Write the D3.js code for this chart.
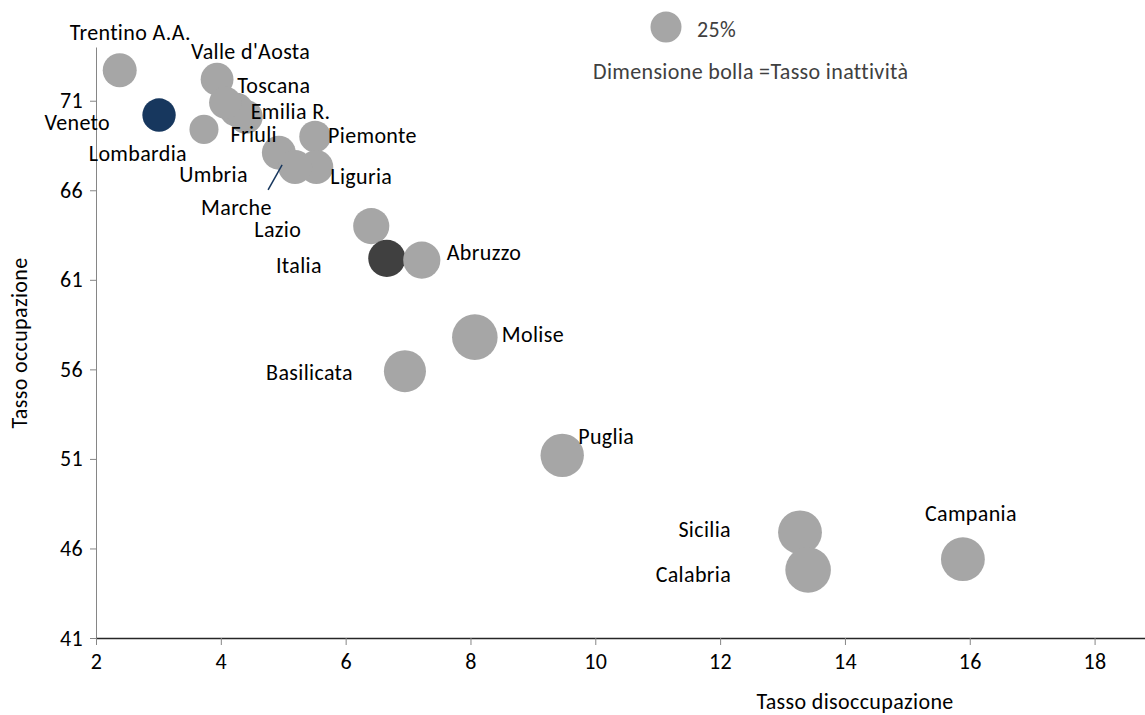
<!DOCTYPE html>
<html>
<head>
<meta charset="utf-8">
<script src="https://cdn.jsdelivr.net/npm/d3@7"></script>
<style>
  body { margin: 0; background: #fff; }
  svg text { font-family: Carlito, Calibri, Lato, sans-serif; letter-spacing: 0.35px; }
</style>
</head>
<body>
<div id="chart"></div>
<script>
// Bubble chart: tasso disoccupazione vs tasso occupazione, bubble = tasso inattività

const regioni = ["Piemonte", "Valle d'Aosta", "Lombardia", "Trentino A.A.", "Veneto", "Friuli",
    "Liguria", "Emilia R.", "Toscana", "Umbria", "Marche", "Lazio", "Italia", "Abruzzo",
    "Molise", "Campania", "Puglia", "Basilicata", "Sicilia", "Calabria"];
const disoccupazione = [5.51, 3.94, 3.73, 2.38, 3.01, 4.25, 5.53, 4.40, 4.07, 4.93, 5.19, 6.41, 6.66, 7.22,
    8.07, 15.89, 9.47, 6.95, 13.28, 13.41];
const occupazione = [69.0, 72.2, 69.4, 72.7, 70.2, 70.5, 67.3, 70.1, 70.9, 68.1, 67.3, 64.0, 62.2, 62.1,
    57.8, 45.4, 51.2, 55.9, 46.9, 44.8];
const inattivita = [26, 28, 22, 30, 29, 30, 30, 30, 27, 30, 30, 34, 36, 36,
    54, 50, 49, 46, 50, 54];

const xTicks = [2, 4, 6, 8, 10, 12, 14, 16, 18];
const yTicks = [41, 46, 51, 56, 61, 66, 71];
const legendValue = 25;

// label placement: [dx, dy, anchor] from bubble centre
const labelPos = {
    "Piemonte": [13, 6, "start"],
    "Valle d'Aosta": [-26, -20, "start"],
    "Lombardia": [-17, 32, "end"],
    "Trentino A.A.": [-50, -30, "start"],
    "Veneto": [-49, 15, "end"],
    "Friuli": [-6, 32, "start"],
    "Liguria": [14, 17, "start"],
    "Emilia R.": [5, 2, "start"],
    "Toscana": [12, -10, "start"],
    "Umbria": [-31, 29, "end"],
    "Marche": [-94, 48, "start"],
    "Lazio": [-70, 11, "end"],
    "Italia": [-65, 15, "end"],
    "Abruzzo": [25, 0, "start"],
    "Molise": [27, 5, "start"],
    "Campania": [8, -38, "middle"],
    "Puglia": [16, -11, "start"],
    "Basilicata": [-52, 9, "end"],
    "Sicilia": [-69, 5, "end"],
    "Calabria": [-77, 12, "end"]
};

const width = 1145, height = 715;
const fontSize = 22;
const colGrey = "#a6a6a6", colNavy = "#17375e", colDark = "#404040";

let svg = d3.select("#chart").append("svg")
    .attr("width", width)
    .attr("height", height);

let x = d3.scaleLinear().domain([2, 19]).range([96, 1157]);
let y = d3.scaleLinear().domain([41, 74]).range([638, 47]);
let r = d3.scaleSqrt().domain([0, 25]).range([0, 15.5]);

// Y axis
let yAxis = svg.append("g")
    .attr("transform", "translate(96,0)")
    .call(d3.axisLeft(y).tickValues(yTicks).tickSize(6).tickPadding(7).tickSizeOuter(0));
yAxis.select(".domain").attr("stroke", "#868686");
yAxis.selectAll(".tick line").attr("stroke", "#868686");
yAxis.selectAll(".tick text").attr("font-size", fontSize).attr("fill", "#000");

// X axis
let xAxis = svg.append("g")
    .attr("transform", "translate(0,638)")
    .call(d3.axisBottom(x).tickValues(xTicks).tickSize(7).tickPadding(8).tickSizeOuter(0));
xAxis.select(".domain").attr("stroke", "#262626").attr("stroke-width", 1.5);
xAxis.selectAll(".tick line").attr("stroke", "#868686");
xAxis.selectAll(".tick text").attr("font-size", fontSize).attr("fill", "#000");

// axis titles
svg.append("text")
    .attr("x", 855)
    .attr("y", 709)
    .attr("text-anchor", "middle")
    .attr("font-size", fontSize)
    .text("Tasso disoccupazione");
svg.append("text")
    .attr("transform", "translate(27,343) rotate(-90)")
    .attr("text-anchor", "middle")
    .attr("font-size", fontSize)
    .text("Tasso occupazione");

let data = regioni.map((d, i) => ({
    name: d, dis: disoccupazione[i], occ: occupazione[i], ina: inattivita[i]
}));

function fillFor(name) {
    if (name === "Veneto") return colNavy;
    if (name === "Italia") return colDark;
    return colGrey;
}

// bubbles
svg.selectAll("circle.bolla")
    .data(data)
    .enter().append("circle")
    .attr("class", "bolla")
    .attr("cx", d => x(d.dis))
    .attr("cy", d => y(d.occ))
    .attr("r", d => r(d.ina))
    .attr("fill", d => fillFor(d.name));

// leader line for Marche
let marche = data.find(d => d.name === "Marche");
svg.append("line")
    .attr("x1", x(marche.dis) - 27)
    .attr("y1", y(marche.occ) + 23)
    .attr("x2", x(marche.dis) - 13)
    .attr("y2", y(marche.occ) - 2)
    .attr("stroke", colNavy)
    .attr("stroke-width", 1.5);

// labels
svg.selectAll("text.etichetta")
    .data(data)
    .enter().append("text")
    .attr("class", "etichetta")
    .attr("x", d => x(d.dis) + labelPos[d.name][0])
    .attr("y", d => y(d.occ) + labelPos[d.name][1])
    .attr("text-anchor", d => labelPos[d.name][2])
    .attr("font-size", fontSize)
    .attr("fill", "#000")
    .text(d => d.name);

// legend
svg.append("circle")
    .attr("cx", 666)
    .attr("cy", 27)
    .attr("r", r(legendValue))
    .attr("fill", colGrey);
svg.append("text")
    .attr("x", 697)
    .attr("y", 37)
    .attr("font-size", fontSize)
    .attr("fill", colDark)
    .text(legendValue + "%");
svg.append("text")
    .attr("x", 593)
    .attr("y", 79)
    .attr("font-size", fontSize)
    .attr("fill", colDark)
    .text("Dimensione bolla =Tasso inattività");
</script>
</body>
</html>
